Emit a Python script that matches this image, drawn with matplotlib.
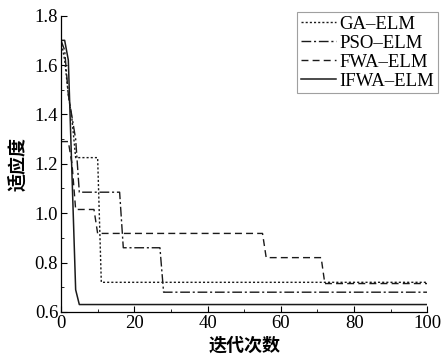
import matplotlib

matplotlib.use("Agg")
import matplotlib.pyplot as plt  # noqa: E402
from matplotlib.ticker import MultipleLocator, FormatStrFormatter  # noqa: E402

# vertices (iteration, fitness)
ga_x = [0, 1, 2, 3, 4, 10, 11, 100]
ga_y = [1.70, 1.62, 1.48, 1.38, 1.225, 1.225, 0.72, 0.72]

pso_x = [0, 1, 2, 3, 4, 5, 16, 17, 27, 28, 100]
pso_y = [1.70, 1.66, 1.48, 1.39, 1.30, 1.085, 1.085, 0.86, 0.86, 0.68, 0.68]

fwa_x = [0, 1, 2, 3, 4, 9, 10, 55, 56, 71, 72, 100]
fwa_y = [1.29, 1.29, 1.29, 1.20, 1.015, 1.015, 0.918, 0.918, 0.82, 0.82, 0.715, 0.715]

ifwa_x = [0, 1, 2, 4, 5, 100]
ifwa_y = [1.70, 1.70, 1.62, 0.69, 0.63, 0.63]

labels = ["GA–ELM", "PSO–ELM", "FWA–ELM", "IFWA–ELM"]

serif = ["Liberation Serif", "DejaVu Serif"]
cjk = ["Noto Sans CJK SC", "DejaVu Sans"]
plt.rcParams.update({
    "font.family": serif,
    "font.size": 13.5,
    "xtick.direction": "in",
    "ytick.direction": "in",
    "xtick.major.size": 4,
    "ytick.major.size": 4,
    "xtick.minor.size": 2.5,
    "ytick.minor.size": 2.5,
    "axes.linewidth": 0.9,
})

fig = plt.figure(figsize=(4.42, 3.64), dpi=100)
ax = fig.add_axes([0.138, 0.143, 0.829, 0.814])

c = "#1a1a1a"
ax.plot(ga_x, ga_y, color=c, lw=1.0, ls=(0, (1.5, 1.5)), label=labels[0])
ax.plot(pso_x, pso_y, color=c, lw=1.0, ls=(0, (7, 2, 1.5, 2)), label=labels[1])
ax.plot(fwa_x, fwa_y, color=c, lw=1.0, ls=(0, (5, 3)), label=labels[2])
ax.plot(ifwa_x, ifwa_y, color=c, lw=1.1, ls="-", label=labels[3])

ax.set_xlim(0, 100)
ax.set_ylim(0.6, 1.8)
ax.xaxis.set_major_locator(MultipleLocator(20))
ax.xaxis.set_minor_locator(MultipleLocator(10))
ax.yaxis.set_major_locator(MultipleLocator(0.2))
ax.yaxis.set_minor_locator(MultipleLocator(0.1))
ax.yaxis.set_major_formatter(FormatStrFormatter("%.1f"))
ax.tick_params(which="both", top=False, right=False, pad=2)
for side in ("top", "right"):
    ax.spines[side].set_visible(False)

ax.set_xlabel("迭代次数", family=cjk, fontsize=13, fontweight="semibold", labelpad=3)
ax.set_ylabel("适应度", family=cjk, fontsize=13, fontweight="semibold", labelpad=5)

leg = ax.legend(loc="upper right", bbox_to_anchor=(0.99, 0.968),
                bbox_transform=fig.transFigure, fontsize=13.5, frameon=True,
                fancybox=False, edgecolor="#888888", handlelength=1.9,
                handletextpad=0.15, borderpad=0.2, labelspacing=0.1,
                borderaxespad=0)
leg.get_frame().set_linewidth(0.8)

fig.savefig("out.png", dpi=100)
